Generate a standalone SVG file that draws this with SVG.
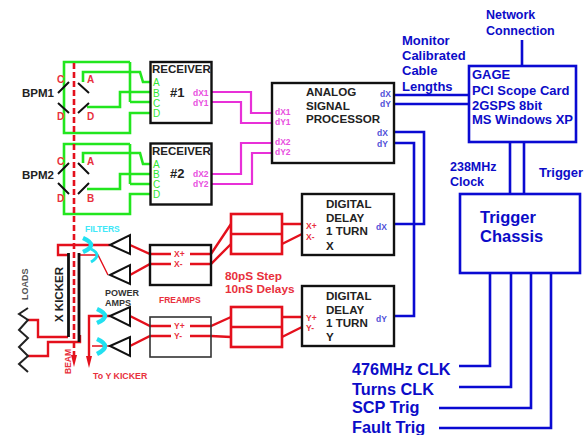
<svg xmlns="http://www.w3.org/2000/svg" width="588" height="435" viewBox="0 0 588 435">
<style>
text{font-family:"Liberation Sans",Arial,sans-serif;font-weight:bold}
.g{fill:none;stroke:#22e61e;stroke-width:2.6}
.m{fill:none;stroke:#e830d8;stroke-width:2.2}
.b{fill:none;stroke:#0a0ad2;stroke-width:2.6}
.r{fill:none;stroke:#e4101c;stroke-width:2.4}
.rt{fill:none;stroke:#e4101c;stroke-width:1.4}
.k{fill:none;stroke:#111;stroke-width:2}
.amp{fill:#fff;stroke:#111;stroke-width:2}
.box{fill:#fff;stroke:#111;stroke-width:2.4}
.cy{fill:none;stroke:#22e0f0;stroke-width:4.5}
.t-k{fill:#222}
.t-b{fill:#0c0cc8}
.t-r{fill:#e8303c}
.t-g{fill:#30e830;font-size:10px;font-weight:normal}
.t-m{fill:#e850e0;font-size:8.5px}
.t-p{fill:#5050d8;font-size:8.5px}
</style>
<g id="connectors">
<path class="g" d="M130 102H150M130 62H64V133H130V113H150M130 102V62"/>
<path class="g" d="M83 82V72H140L143 82H150M87 107H120V92H150"/>
<path class="g" d="M130 184H150M130 144H64V214H130V194H150M130 184V144"/>
<path class="g" d="M83 163V153H140L143 164H150M87 189H120V174H150"/>
<path class="m" d="M211 92H251V113H272M211 102H241V123H272M211 174H241V143H272M211 184H252V153H272"/>
<path class="b" d="M394 95H468M394 104H468M394 132H424V224H393M394 143H414V316H393"/>
<path class="b" d="M522 40V66M510 142V194M524 142V194"/>
<path class="b" d="M490 273V366H459M511 273V387H459M531 273V408H439M551 273V428H439"/>
<path class="r" d="M110 245H58V255H68M28 320H38V337H68M28 356H48V342H80V335M110 316H89V358"/>
<path d="M86 356H92L89 368Z" fill="#e4101c"/>
<path class="rt" d="M80 255H98L108 275M92 346H110"/>
<path class="r" d="M130 245L150 254H171M130 275L150 264H171M130 316L150 326H171M130 346L150 336H171M190 254H211L231 224M190 264H211L231 244M190 326H211L231 317M190 336H211L231 337"/>
<path class="r" d="M282 224H302M282 244L302 234M282 317H302M282 337L302 327"/>
<path d="M74 63V356" fill="none" stroke="#e4101c" stroke-width="2.6" stroke-dasharray="6 3"/>
<path d="M71 355H77L74 367Z" fill="#e4101c"/>
</g>
<g id="bpm1">
<path class="k" d="M58 93L69 82M78 83L89 93M58 103L69 113M78 113L89 103"/>
<text x="22" y="97" font-size="11.500" class="t-k">BPM1</text>
<text x="57" y="83" font-size="10" class="t-r">C</text><text x="87" y="83" font-size="10" class="t-r">A</text>
<text x="57" y="120" font-size="10" class="t-r">D</text><text x="87" y="120" font-size="10" class="t-r">D</text>
</g>
<g id="bpm2">
<path class="k" d="M58 174L69 163M78 163L89 174M58 183L69 194M78 194L89 183"/>
<text x="22" y="179" font-size="11.500" class="t-k">BPM2</text>
<text x="57" y="165" font-size="10" class="t-r">C</text><text x="87" y="165" font-size="10" class="t-r">A</text>
<text x="57" y="202" font-size="10" class="t-r">D</text><text x="87" y="202" font-size="10" class="t-r">B</text>
</g>
<g id="receiver1">
<rect class="box" x="150.500" y="62" width="61" height="61"/>
<text x="152" y="73" font-size="11.500" class="t-k">RECEIVER</text>
<text x="170" y="97" font-size="13" class="t-k">#1</text>
<text x="153" y="86" class="t-g">A</text><text x="153" y="97" class="t-g">B</text><text x="153" y="107" class="t-g">C</text><text x="153" y="117" class="t-g">D</text>
<text x="193" y="96" class="t-m">dX1</text><text x="193" y="106" class="t-m">dY1</text>
</g>
<g id="receiver2">
<rect class="box" x="150.500" y="143.500" width="61" height="61"/>
<text x="152" y="155" font-size="11.500" class="t-k">RECEIVER</text>
<text x="170" y="178" font-size="13" class="t-k">#2</text>
<text x="153" y="168" class="t-g">A</text><text x="153" y="178" class="t-g">B</text><text x="153" y="188" class="t-g">C</text><text x="153" y="198" class="t-g">D</text>
<text x="193" y="177" class="t-m">dX2</text><text x="193" y="187" class="t-m">dY2</text>
</g>
<g id="asp">
<rect class="box" x="272" y="83" width="122" height="80"/>
<text x="306" y="96" font-size="11.600" class="t-k">ANALOG</text>
<text x="306" y="110" font-size="11.600" class="t-k">SIGNAL</text>
<text x="306" y="123" font-size="11.600" class="t-k">PROCESSOR</text>
<text x="275" y="115" class="t-m">dX1</text><text x="275" y="125" class="t-m">dY1</text>
<text x="275" y="145" class="t-m">dX2</text><text x="275" y="155" class="t-m">dY2</text>
<text x="380" y="97" class="t-p">dX</text><text x="380" y="107" class="t-p">dY</text>
<text x="377" y="136" class="t-p">dX</text><text x="377" y="147" class="t-p">dY</text>
</g>
<g id="delay-x">
<rect class="box" x="302" y="194" width="92" height="61"/>
<text x="326" y="208" font-size="11.600" class="t-k">DIGITAL</text>
<text x="326" y="222" font-size="11.600" class="t-k">DELAY</text>
<text x="326" y="235" font-size="11.600" class="t-k">1 TURN</text>
<text x="326" y="250" font-size="11.600" class="t-k">X</text>
<text x="306" y="229" class="t-r" font-size="8.500">X+</text><text x="306" y="240" class="t-r" font-size="8.500">X-</text>
<text x="376" y="230" class="t-p">dX</text>
</g>
<g id="delay-y">
<rect class="box" x="302" y="286" width="92" height="60"/>
<text x="326" y="300" font-size="11.600" class="t-k">DIGITAL</text>
<text x="326" y="314" font-size="11.600" class="t-k">DELAY</text>
<text x="326" y="327" font-size="11.600" class="t-k">1 TURN</text>
<text x="326" y="341" font-size="11.600" class="t-k">Y</text>
<text x="306" y="321" class="t-r" font-size="8.500">Y+</text><text x="306" y="331" class="t-r" font-size="8.500">Y-</text>
<text x="376" y="322" class="t-p">dY</text>
</g>
<g id="delays-x"><rect x="231" y="214" width="51" height="40" fill="#fff" stroke="#e4101c" stroke-width="2.600"/><path d="M231 234H282" stroke="#e4101c" stroke-width="2.600"/></g>
<g id="delays-y"><rect x="231" y="307" width="51" height="40" fill="#fff" stroke="#e4101c" stroke-width="2.600"/><path d="M231 327H282" stroke="#e4101c" stroke-width="2.600"/></g>
<text x="225" y="280" font-size="11.800" class="t-r">80pS Step</text>
<text x="225" y="293" font-size="11.800" class="t-r">10nS Delays</text>
<g id="preamp-x">
<rect x="150" y="245" width="61" height="40" fill="none" stroke="#111" stroke-width="2.400"/>
<rect x="171" y="248" width="19" height="20" fill="#fff"/>
<text x="174" y="257" font-size="8.500" class="t-r">X+</text><text x="174" y="267" font-size="8.500" class="t-r">X-</text>
</g>
<g id="preamp-y">
<rect x="150" y="317" width="61" height="40" fill="none" stroke="#333" stroke-width="1.600"/>
<rect x="171" y="320" width="19" height="20" fill="#fff"/>
<text x="174" y="329" font-size="8.500" class="t-r">Y+</text><text x="174" y="339" font-size="8.500" class="t-r">Y-</text>
<text x="159" y="303" font-size="8.500" class="t-r">FREAMPS</text>
</g>
<g id="amps">
<path class="amp" d="M110 245L130 235V254ZM110 275L130 265V284ZM110 316L130 307V326ZM110 346L130 337V356Z"/>
<text x="105" y="296" font-size="9" fill="#333">POWER</text>
<text x="105" y="306" font-size="9" fill="#333">AMPS</text>
</g>
<g id="filters">
<path class="cy" d="M83 238Q99 245 83 252"/>
<path class="cy" d="M91 249Q103 255 91 262" style="stroke-width:3"/>
<path class="cy" d="M97 309Q113 316 97 323"/>
<path class="cy" d="M97 339Q113 346 97 354"/>
<text x="85" y="232" font-size="8.500" fill="#40e8f8">FILTERS</text>
</g>
<g id="x-kicker">
<path d="M68.500 253V337M79 253V342" fill="none" stroke="#111" stroke-width="2.800"/>
<text transform="translate(63 322) rotate(-90)" font-size="11.500" class="t-k">X KICKER</text>
</g>
<g id="loads">
<path d="M28 308L19 314L28 320L19 330L28 338L19 347L28 356L19 364L28 372" fill="none" stroke="#222" stroke-width="2"/>
<text transform="translate(28 300) rotate(-90)" font-size="9" fill="#555">LOADS</text>
</g>
<text transform="translate(71 374) rotate(-90)" font-size="8.500" class="t-r">BEAM</text>
<text x="93" y="379" font-size="8.800" class="t-r">To Y KICKER</text>
<g id="gage">
<rect x="469" y="66" width="107" height="76" fill="none" stroke="#0a0ad2" stroke-width="2.600"/>
<text x="472" y="79" font-size="13" class="t-b">GAGE</text>
<text x="472" y="95" font-size="13" class="t-b">PCI Scope Card</text>
<text x="472" y="110" font-size="13" class="t-b">2GSPS 8bit</text>
<text x="472" y="124" font-size="13" class="t-b">MS Windows XP</text>
</g>
<g id="trigger">
<rect x="460" y="194" width="120" height="79" fill="none" stroke="#0a0ad2" stroke-width="2.600"/>
<text x="480" y="223" font-size="16.500" class="t-b">Trigger</text>
<text x="480" y="242" font-size="16.500" class="t-b">Chassis</text>
</g>
<text x="486" y="19" font-size="12.500" class="t-b">Network</text>
<text x="486" y="35" font-size="12.500" class="t-b">Connection</text>
<text x="402" y="45" font-size="13" class="t-b">Monitor</text>
<text x="402" y="60" font-size="13" class="t-b">Calibrated</text>
<text x="402" y="75" font-size="13" class="t-b">Cable</text>
<text x="402" y="91" font-size="13" class="t-b">Lengths</text>
<text x="450" y="171" font-size="12.500" class="t-b">238MHz</text>
<text x="450" y="186" font-size="12.500" class="t-b">Clock</text>
<text x="539" y="177" font-size="13" class="t-b">Trigger</text>
<text x="352" y="375" font-size="16.300" class="t-b">476MHz CLK</text>
<text x="352" y="395" font-size="16.300" class="t-b">Turns CLK</text>
<text x="352" y="413" font-size="16.300" class="t-b">SCP Trig</text>
<text x="352" y="433" font-size="16.300" class="t-b">Fault Trig</text>
</svg>
